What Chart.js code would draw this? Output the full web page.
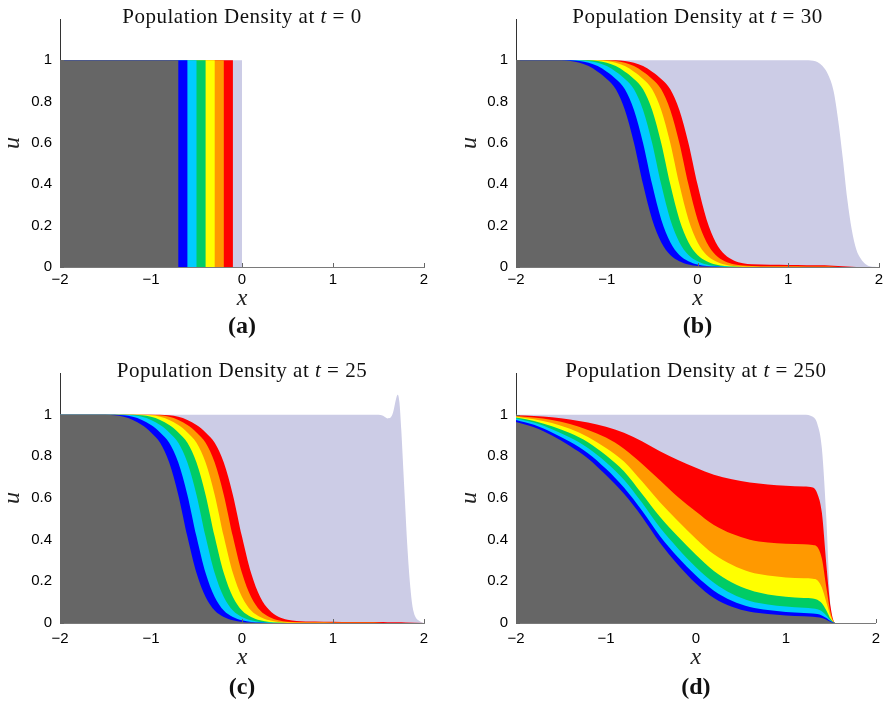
<!DOCTYPE html>
<html lang="en">
<head>
  <meta charset="UTF-8">
  <title>Population Density</title>
  <script src="https://cdn.jsdelivr.net/npm/chart.js"></script>
  <style>
    body { margin: 0; background: #fff; }
    canvas { position: absolute; }
  </style>
</head>
<body>
  <canvas id="chartA"></canvas>
  <canvas id="chartB"></canvas>
  <canvas id="chartC"></canvas>
  <canvas id="chartD"></canvas>

  <script>
    // ---- data (upper edge of each coloured band, u) ----
    const xTicks = [-2, -1, 0, 1, 2];
    const uTicks = [0, 0.2, 0.4, 0.6, 0.8, 1];

    // (a) t = 0, step profile
    const xsA     = [-2, -0.7, -0.6, -0.5, -0.4, -0.3, -0.2, -0.1, 0, 2];
    const grayA   = [1, 0, 0, 0, 0, 0, 0, 0, 0, 0];
    const blueA   = [1, 1, 0, 0, 0, 0, 0, 0, 0, 0];
    const cyanA   = [1, 1, 1, 0, 0, 0, 0, 0, 0, 0];
    const greenA  = [1, 1, 1, 1, 0, 0, 0, 0, 0, 0];
    const yellowA = [1, 1, 1, 1, 1, 0, 0, 0, 0, 0];
    const orangeA = [1, 1, 1, 1, 1, 1, 0, 0, 0, 0];
    const redA    = [1, 1, 1, 1, 1, 1, 1, 0, 0, 0];
    const lavA    = [1, 1, 1, 1, 1, 1, 1, 1, 0, 0];

    // (b) t = 30 and (c) t = 25 share this x grid
    const xsB = [-2, -1.8, -1.6, -1.5, -1.4, -1.3, -1.2, -1.1, -1.0, -0.9, -0.8, -0.7, -0.6, -0.5, -0.4, -0.3, -0.2, -0.1,
                 0, 0.1, 0.2, 0.3, 0.4, 0.5, 0.6, 0.8, 1.0, 1.2, 1.4, 1.5, 1.6, 1.7, 1.8, 2];

    const grayB   = [1, 1, 1, 1, 0.997, 0.988, 0.972, 0.945, 0.91, 0.86, 0.76, 0.6, 0.4, 0.23, 0.12, 0.058, 0.028, 0.012,
                     0.005, 0.002, 0, 0, 0, 0, 0, 0, 0, 0, 0, 0, 0, 0, 0, 0];
    const blueB   = [1, 1, 1, 1, 1, 0.997, 0.988, 0.972, 0.945, 0.91, 0.86, 0.76, 0.6, 0.4, 0.23, 0.12, 0.058, 0.028,
                     0.012, 0.005, 0.002, 0, 0, 0, 0, 0, 0, 0, 0, 0, 0, 0, 0, 0];
    const cyanB   = [1, 1, 1, 1, 1, 1, 0.997, 0.988, 0.972, 0.945, 0.91, 0.86, 0.76, 0.6, 0.4, 0.23, 0.12, 0.058,
                     0.028, 0.012, 0.005, 0.002, 0, 0, 0, 0, 0, 0, 0, 0, 0, 0, 0, 0];
    const greenB  = [1, 1, 1, 1, 1, 1, 1, 0.997, 0.988, 0.972, 0.945, 0.91, 0.86, 0.76, 0.6, 0.4, 0.23, 0.12,
                     0.058, 0.028, 0.012, 0.005, 0.002, 0, 0, 0, 0, 0, 0, 0, 0, 0, 0, 0];
    const yellowB = [1, 1, 1, 1, 1, 1, 1, 1, 0.997, 0.988, 0.972, 0.945, 0.91, 0.86, 0.76, 0.6, 0.4, 0.23,
                     0.12, 0.058, 0.028, 0.012, 0.005, 0.002, 0.001, 0, 0, 0, 0, 0, 0, 0, 0, 0];
    const orangeB = [1, 1, 1, 1, 1, 1, 1, 1, 1, 0.997, 0.988, 0.972, 0.945, 0.91, 0.86, 0.76, 0.6, 0.4,
                     0.23, 0.12, 0.058, 0.028, 0.013, 0.007, 0.005, 0.004, 0.004, 0.003, 0.002, 0.001, 0, 0, 0, 0];
    const redB    = [1, 1, 1, 1, 1, 1, 1, 1, 1, 1, 0.997, 0.988, 0.972, 0.945, 0.91, 0.86, 0.76, 0.6,
                     0.4, 0.23, 0.12, 0.06, 0.032, 0.018, 0.013, 0.011, 0.01, 0.009, 0.008, 0.006, 0.004, 0.001, 0, 0];
    const lavXsB  = [-2, 1.2, 1.3, 1.4, 1.45, 1.5, 1.55, 1.6, 1.65, 1.7, 1.75, 1.8, 1.85, 1.9, 2];
    const lavB    = [1, 1, 0.995, 0.96, 0.92, 0.85, 0.71, 0.53, 0.33, 0.18, 0.085, 0.04, 0.015, 0.004, 0];

    const grayC   = [1, 1, 1, 1, 0.997, 0.99, 0.975, 0.95, 0.915, 0.865, 0.77, 0.615, 0.415, 0.24, 0.125, 0.06, 0.029, 0.013,
                     0.005, 0.002, 0, 0, 0, 0, 0, 0, 0, 0, 0, 0, 0, 0, 0, 0];
    const blueC   = [1, 1, 1, 1, 1, 0.997, 0.99, 0.975, 0.95, 0.915, 0.865, 0.77, 0.615, 0.415, 0.24, 0.125, 0.06, 0.029,
                     0.013, 0.005, 0.002, 0, 0, 0, 0, 0, 0, 0, 0, 0, 0, 0, 0, 0];
    const cyanC   = [1, 1, 1, 1, 1, 1, 0.997, 0.99, 0.975, 0.95, 0.915, 0.865, 0.77, 0.615, 0.415, 0.24, 0.125, 0.06,
                     0.029, 0.013, 0.005, 0.002, 0, 0, 0, 0, 0, 0, 0, 0, 0, 0, 0, 0];
    const greenC  = [1, 1, 1, 1, 1, 1, 1, 0.997, 0.99, 0.975, 0.95, 0.915, 0.865, 0.77, 0.615, 0.415, 0.24, 0.125,
                     0.06, 0.029, 0.013, 0.005, 0.002, 0, 0, 0, 0, 0, 0, 0, 0, 0, 0, 0];
    const yellowC = [1, 1, 1, 1, 1, 1, 1, 1, 0.997, 0.99, 0.975, 0.95, 0.915, 0.865, 0.77, 0.615, 0.415, 0.24,
                     0.125, 0.06, 0.029, 0.013, 0.005, 0.002, 0.001, 0.001, 0, 0, 0, 0, 0, 0, 0, 0];
    const orangeC = [1, 1, 1, 1, 1, 1, 1, 1, 1, 0.997, 0.99, 0.975, 0.95, 0.915, 0.865, 0.77, 0.615, 0.415,
                     0.24, 0.125, 0.06, 0.029, 0.013, 0.006, 0.004, 0.003, 0.003, 0.002, 0.002, 0.001, 0, 0, 0, 0];
    const redC    = [1, 1, 1, 1, 1, 1, 1, 1, 1, 1, 0.997, 0.99, 0.975, 0.95, 0.915, 0.865, 0.77, 0.615,
                     0.415, 0.24, 0.125, 0.062, 0.03, 0.016, 0.01, 0.007, 0.006, 0.005, 0.005, 0.005, 0.004, 0.004, 0.003, 0];
    const lavXsC  = [-2, 1.5, 1.55, 1.6, 1.63, 1.66, 1.69, 1.71, 1.73, 1.75, 1.77, 1.79, 1.81, 1.83, 1.85, 1.87, 1.9, 1.95, 2];
    const lavC    = [1, 1, 0.995, 0.982, 0.985, 1.01, 1.07, 1.096, 1.06, 0.93, 0.76, 0.59, 0.42, 0.28, 0.17, 0.09, 0.035, 0.01, 0];

    // (d) t = 250
    const xsD     = [-2, -1.8, -1.6, -1.4, -1.2, -1.0, -0.8, -0.6, -0.4, -0.2, 0, 0.2, 0.4, 0.6, 0.8, 1.0, 1.2,
                     1.3, 1.35, 1.4, 1.45, 1.5, 1.55, 1.6, 2];
    const grayD   = [0.965, 0.94, 0.9, 0.85, 0.79, 0.71, 0.62, 0.51, 0.385, 0.28, 0.19, 0.12, 0.078, 0.054, 0.043, 0.036, 0.032,
                     0.03, 0.028, 0.024, 0.016, 0.005, 0, 0, 0];
    const blueD   = [0.975, 0.952, 0.915, 0.87, 0.815, 0.74, 0.65, 0.54, 0.418, 0.316, 0.228, 0.155, 0.107, 0.077, 0.062, 0.053, 0.048,
                     0.046, 0.043, 0.036, 0.024, 0.008, 0, 0, 0];
    const cyanD   = [0.982, 0.962, 0.93, 0.89, 0.84, 0.772, 0.688, 0.578, 0.458, 0.358, 0.268, 0.193, 0.14, 0.106, 0.089, 0.079, 0.073,
                     0.07, 0.066, 0.056, 0.036, 0.011, 0, 0, 0];
    const greenD  = [0.986, 0.97, 0.945, 0.912, 0.868, 0.805, 0.728, 0.62, 0.51, 0.415, 0.328, 0.25, 0.195, 0.158, 0.137, 0.126, 0.12,
                     0.118, 0.112, 0.095, 0.06, 0.018, 0, 0, 0];
    const yellowD = [0.99, 0.978, 0.96, 0.932, 0.893, 0.84, 0.775, 0.68, 0.58, 0.49, 0.405, 0.33, 0.28, 0.245, 0.228, 0.219, 0.215,
                     0.213, 0.205, 0.17, 0.1, 0.03, 0, 0, 0];
    const orangeD = [0.994, 0.986, 0.975, 0.955, 0.927, 0.89, 0.837, 0.765, 0.685, 0.605, 0.535, 0.47, 0.428, 0.4, 0.387, 0.381, 0.378,
                     0.375, 0.365, 0.31, 0.17, 0.045, 0, 0, 0];
    const redD    = [0.997, 0.994, 0.988, 0.977, 0.962, 0.942, 0.913, 0.873, 0.825, 0.782, 0.745, 0.712, 0.69, 0.674, 0.665, 0.659, 0.655,
                     0.65, 0.62, 0.53, 0.28, 0.07, 0, 0, 0];
    const lavD    = [1, 1, 1, 1, 1, 1, 1, 1, 1, 1, 1, 1, 1, 1, 1, 1, 1,
                     0.99, 0.955, 0.84, 0.5, 0.07, 0, 0, 0];

    // gray on top, lavender at the back
    const bandColours = ['#666666', '#0000ff', '#00ccff', '#00cc66', '#ffff00', '#ff9900', '#ff0000', '#ccccE6'];

    const pts = (xs, ys) => xs.map((x, i) => ({ x: x, y: ys[i] }));
    const minus = v => (v < 0 ? '\u2212' + Math.abs(v) : String(v));

    // title, caption and inward tick marks
    const panelText = {
      id: 'panelText',
      afterDraw(chart, args, o) {
        const { ctx, chartArea: a, scales } = chart;
        const cx = (a.left + a.right) / 2;
        ctx.save();
        ctx.fillStyle = '#111';
        ctx.textBaseline = 'alphabetic';
        ctx.letterSpacing = '0.5px';
        const roman = '21px "Liberation Serif"';
        const ital = 'italic 21px "Liberation Serif"';
        const parts = [['Population Density at ', roman], ['t', ital], [' = ' + o.t, roman]];
        let w = 0;
        parts.forEach(p => { ctx.font = p[1]; w += ctx.measureText(p[0]).width; });
        let px = cx - w / 2;
        parts.forEach(p => { ctx.font = p[1]; ctx.fillText(p[0], px, a.top + 4); px += ctx.measureText(p[0]).width; });
        ctx.letterSpacing = '0px';

        ctx.font = 'bold 24px "Liberation Serif"';
        ctx.textAlign = 'center';
        ctx.textBaseline = 'middle';
        ctx.fillText(o.caption, cx, a.bottom + o.capGap);

        ctx.strokeStyle = '#666';
        ctx.lineWidth = 1;
        xTicks.forEach(v => {
          const x = Math.round(scales.x.getPixelForValue(v)) + 0.5;
          ctx.beginPath(); ctx.moveTo(x, a.bottom); ctx.lineTo(x, a.bottom - 4); ctx.stroke();
        });
        uTicks.forEach(v => {
          const y = Math.round(scales.y.getPixelForValue(v)) + 0.5;
          ctx.beginPath(); ctx.moveTo(a.left, y); ctx.lineTo(a.left + 4, y); ctx.stroke();
        });
        ctx.restore();
      }
    };

    function makePanel(id, box, area, series, o) {
      const cv = document.getElementById(id);
      cv.width = box.w; cv.height = box.h;
      cv.style.left = box.left + 'px'; cv.style.top = box.top + 'px';
      const xh = o.xTitleGap + 12;
      const datasets = series.map((s, i) => ({
        data: pts(s[0], s[1]),
        backgroundColor: bandColours[i],
        borderColor: 'rgba(0,0,0,0)',
        borderWidth: 0,
        fill: 'origin',
        pointRadius: 0,
        stepped: o.stepped || false,
        cubicInterpolationMode: 'monotone'
      }));
      new Chart(cv, {
        type: 'line',
        data: { datasets: datasets },
        plugins: [panelText],
        options: {
          responsive: false,
          animation: false,
          layout: { padding: { left: 0, top: area.T - box.top, right: box.left + box.w - area.R,
                               bottom: box.h - (area.B - box.top) - xh } },
          plugins: {
            legend: { display: false },
            tooltip: { enabled: false },
            panelText: { t: o.t, caption: o.caption, capGap: o.capGap }
          },
          scales: {
            x: {
              type: 'linear', min: -2, max: 2, z: 1,
              afterFit: s => { s.height = xh; },
              grid: { display: false, drawTicks: false },
              border: { display: true, color: '#7a7a7a', width: 1 },
              ticks: { stepSize: 1, padding: o.tickPad, color: '#000', maxRotation: 0,
                       font: { family: '"Liberation Sans"', size: 15 }, callback: v => minus(v) },
              title: { display: true, text: 'x', color: '#222', padding: 0,
                       font: { family: '"Liberation Serif"', size: 24, style: 'italic', lineHeight: 1 } }
            },
            y: {
              min: 0, max: 1.2, z: 1,
              afterFit: s => { s.width = area.L - box.left; },
              grid: { display: false, drawTicks: false },
              border: { display: true, color: '#333', width: 1 },
              ticks: { stepSize: 0.2, padding: 8, color: '#000',
                       font: { family: '"Liberation Sans"', size: 15 },
                       callback: v => (v > 1.01 ? null : String(Math.round(v * 10) / 10)) },
              title: { display: true, text: 'u', color: '#222', padding: { top: 1, bottom: 0 },
                       font: { family: '"Liberation Serif"', size: 24, style: 'italic', lineHeight: 1 } }
            }
          }
        }
      });
    }

    makePanel('chartA', { left: 0, top: 0, w: 440, h: 345 }, { L: 60, T: 19, R: 424, B: 267 },
      [[xsA, grayA], [xsA, blueA], [xsA, cyanA], [xsA, greenA], [xsA, yellowA], [xsA, orangeA], [xsA, redA], [xsA, lavA]],
      { t: '0', caption: '(a)', capGap: 60, xTitleGap: 32, tickPad: 3.5, stepped: true });

    makePanel('chartB', { left: 457, top: 0, w: 430, h: 345 }, { L: 516, T: 19, R: 879, B: 267 },
      [[xsB, grayB], [xsB, blueB], [xsB, cyanB], [xsB, greenB], [xsB, yellowB], [xsB, orangeB], [xsB, redB], [lavXsB, lavB]],
      { t: '30', caption: '(b)', capGap: 60, xTitleGap: 32, tickPad: 3.5 });

    makePanel('chartC', { left: 0, top: 350, w: 440, h: 353 }, { L: 60, T: 373, R: 424, B: 623 },
      [[xsB, grayC], [xsB, blueC], [xsB, cyanC], [xsB, greenC], [xsB, yellowC], [xsB, orangeC], [xsB, redC], [lavXsC, lavC]],
      { t: '25', caption: '(c)', capGap: 65, xTitleGap: 35, tickPad: 7 });

    makePanel('chartD', { left: 457, top: 350, w: 430, h: 353 }, { L: 516, T: 373, R: 879, B: 623 },
      [[xsD, grayD], [xsD, blueD], [xsD, cyanD], [xsD, greenD], [xsD, yellowD], [xsD, orangeD], [xsD, redD], [xsD, lavD]],
      { t: '250', caption: '(d)', capGap: 65, xTitleGap: 35, tickPad: 7 });
  </script>
</body>
</html>
